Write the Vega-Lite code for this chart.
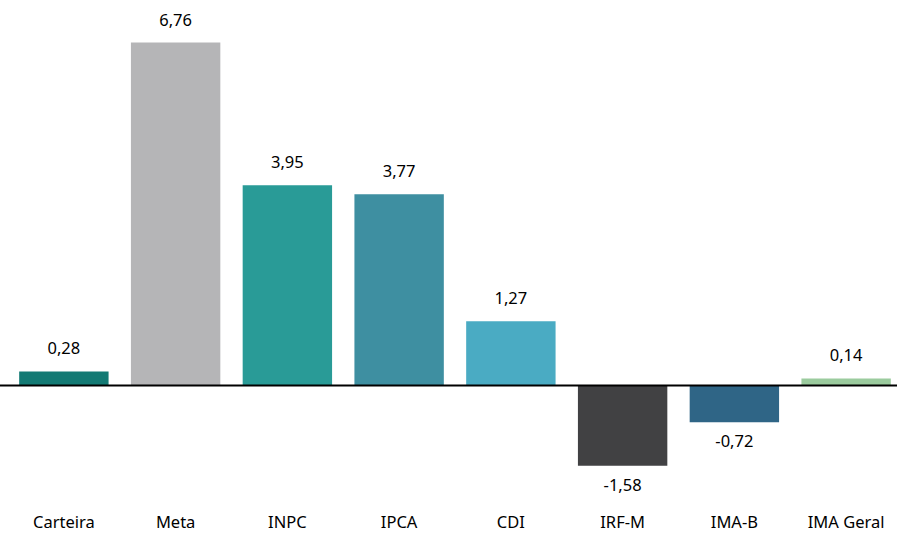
{
  "$schema": "https://vega.github.io/schema/vega-lite/v6.json",
  "width": 894,
  "height": 482,
  "autosize": "none",
  "padding": {"left": 8, "top": 0, "right": 0, "bottom": 51},
  "background": "white",
  "config": {"view": {"stroke": null}, "font": "Noto Sans"},
  "data": {
    "values": [
      {"cat": "Carteira", "value": 0.28, "label": "0,28", "color": "#137a74"},
      {"cat": "Meta", "value": 6.76, "label": "6,76", "color": "#b5b5b7"},
      {"cat": "INPC", "value": 3.95, "label": "3,95", "color": "#299b97"},
      {"cat": "IPCA", "value": 3.77, "label": "3,77", "color": "#3e8fa1"},
      {"cat": "CDI", "value": 1.27, "label": "1,27", "color": "#4aabc3"},
      {"cat": "IRF-M", "value": -1.58, "label": "-1,58", "color": "#414143"},
      {"cat": "IMA-B", "value": -0.72, "label": "-0,72", "color": "#2f6586"},
      {"cat": "IMA Geral", "value": 0.14, "label": "0,14", "color": "#9bcb9e"}
    ]
  },
  "encoding": {
    "x": {
      "field": "cat",
      "type": "nominal",
      "sort": null,
      "scale": {"paddingInner": 0.2, "paddingOuter": 0.1},
      "axis": {
        "title": null,
        "labelAngle": 0,
        "domain": false,
        "ticks": false,
        "labelPadding": 32,
        "labelFontSize": 16.5,
        "labelColor": "#000000",
        "labelFont": "Noto Sans"
      }
    },
    "y": {
      "field": "value",
      "type": "quantitative",
      "scale": {"domain": [-1.9, 7.6], "nice": false, "zero": true},
      "axis": null
    }
  },
  "layer": [
    {
      "mark": {"type": "bar"},
      "encoding": {
        "color": {"field": "color", "type": "nominal", "scale": null, "legend": null}
      }
    },
    {
      "data": {"values": [{"z": 0}]},
      "mark": {"type": "rule", "color": "#000000", "strokeWidth": 2},
      "encoding": {
        "x": {"value": -10},
        "x2": {"value": 900},
        "y": {"field": "z", "type": "quantitative"}
      }
    },
    {
      "transform": [{"filter": "datum.value >= 0"}],
      "mark": {"type": "text", "baseline": "middle", "dy": -22, "fontSize": 16.5, "color": "#000000", "font": "Noto Sans"},
      "encoding": {"text": {"field": "label"}}
    },
    {
      "transform": [{"filter": "datum.value < 0"}],
      "mark": {"type": "text", "baseline": "middle", "dy": 20, "fontSize": 16.5, "color": "#000000", "font": "Noto Sans"},
      "encoding": {"text": {"field": "label"}}
    }
  ]
}
